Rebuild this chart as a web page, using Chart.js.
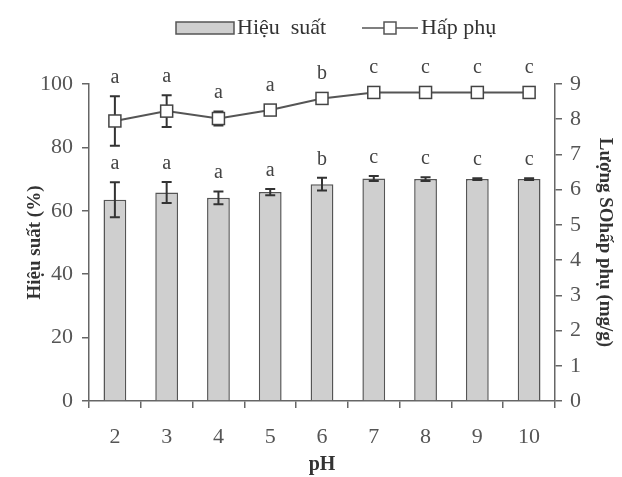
<!DOCTYPE html>
<html>
<head>
<meta charset="utf-8">
<script src="https://cdn.jsdelivr.net/npm/chart.js@4"></script>
<style>
  html, body { margin: 0; padding: 0; background: #fff; }
  #wrap { width: 622px; height: 477px; }
</style>
</head>
<body>
<div id="wrap"><canvas id="chart" width="622" height="477"></canvas></div>
<script>
// pH values on the x axis
const categories = ['2', '3', '4', '5', '6', '7', '8', '9', '10'];

// Hiệu suất (%) - bars, left axis
const hieuSuat = [63.5, 65.8, 64.1, 65.9, 68.4, 70.2, 70.0, 70.0, 70.0];
const hieuSuatErr = [5.5, 3.3, 2.0, 1.0, 2.0, 0.8, 0.6, 0.3, 0.3];
const hieuSuatLetters = ['a', 'a', 'a', 'a', 'b', 'c', 'c', 'c', 'c'];

// Hấp phụ (mg/g) - line, right axis
const hapPhu = [7.95, 8.23, 8.02, 8.26, 8.59, 8.76, 8.76, 8.76, 8.76];
const hapPhuErr = [0.7, 0.45, 0.2, 0.05, 0.15, 0.03, 0.03, 0.03, 0.03];
const hapPhuLetters = ['a', 'a', 'a', 'a', 'b', 'c', 'c', 'c', 'c'];

const leftTicks = [0, 20, 40, 60, 80, 100];
const rightTicks = [0, 1, 2, 3, 4, 5, 6, 7, 8, 9];

const SERIF = '"Liberation Serif", "DejaVu Serif", serif';
const TICK_COLOR = '#555';
const AXIS_COLOR = '#666';

// error bars + significance letters
const extras = {
  id: 'extras',
  afterDatasetsDraw(chart) {
    const ctx = chart.ctx;
    const x = chart.scales.x;
    const specs = [
      { vals: hieuSuat, errs: hieuSuatErr, letters: hieuSuatLetters, scale: chart.scales.y, pad: 0 },
      { vals: hapPhu, errs: hapPhuErr, letters: hapPhuLetters, scale: chart.scales.y1, pad: 6 }
    ];
    ctx.save();
    specs.forEach(s => {
      s.vals.forEach((v, i) => {
        const cx = x.getPixelForValue(i);
        const yTop = s.scale.getPixelForValue(v + s.errs[i]);
        const yBot = s.scale.getPixelForValue(v - s.errs[i]);
        ctx.strokeStyle = '#333';
        ctx.lineWidth = 2;
        ctx.beginPath();
        ctx.moveTo(cx, yTop); ctx.lineTo(cx, yBot);
        ctx.moveTo(cx - 5, yTop); ctx.lineTo(cx + 5, yTop);
        ctx.moveTo(cx - 5, yBot); ctx.lineTo(cx + 5, yBot);
        ctx.stroke();
        const top = Math.min(yTop, s.scale.getPixelForValue(v) - s.pad);
        ctx.fillStyle = '#444';
        ctx.font = '20px ' + SERIF;
        ctx.textAlign = 'center';
        ctx.textBaseline = 'alphabetic';
        ctx.fillText(s.letters[i], cx, top - 13);
      });
    });
    // redraw line points on top of the error bars
    const meta = chart.getDatasetMeta(1);
    meta.data.forEach(p => {
      ctx.fillStyle = '#fff';
      ctx.strokeStyle = '#444';
      ctx.lineWidth = 1.5;
      ctx.fillRect(p.x - 6, p.y - 6, 12, 12);
      ctx.strokeRect(p.x - 6, p.y - 6, 12, 12);
    });
    ctx.restore();
  },
  afterDraw(chart) {
    // legend
    const ctx = chart.ctx;
    const ds = chart.data.datasets;
    ctx.save();
    ctx.font = '22px ' + SERIF;
    ctx.textBaseline = 'middle';
    ctx.textAlign = 'left';
    const y = 28;
    ctx.fillStyle = '#cfcfcf';
    ctx.strokeStyle = '#555';
    ctx.lineWidth = 1.5;
    ctx.fillRect(176, y - 6, 58, 12);
    ctx.strokeRect(176, y - 6, 58, 12);
    ctx.fillStyle = '#333';
    ctx.fillText(ds[0].label, 237, y);
    ctx.strokeStyle = '#555';
    ctx.beginPath();
    ctx.moveTo(362, y); ctx.lineTo(418, y);
    ctx.stroke();
    ctx.fillStyle = '#fff';
    ctx.fillRect(384, y - 6, 12, 12);
    ctx.strokeRect(384, y - 6, 12, 12);
    ctx.fillStyle = '#333';
    ctx.fillText(ds[1].label, 421, y);
    ctx.restore();
  }
};

new Chart(document.getElementById('chart'), {
  data: {
    labels: categories,
    datasets: [
      {
        type: 'bar',
        label: 'Hiệu  suất',
        data: hieuSuat,
        yAxisID: 'y',
        backgroundColor: '#cfcfcf',
        borderColor: '#555',
        borderWidth: 1.5,
        barPercentage: 0.44,
        categoryPercentage: 1,
        order: 2
      },
      {
        type: 'line',
        label: 'Hấp phụ',
        data: hapPhu,
        yAxisID: 'y1',
        borderColor: '#555',
        borderWidth: 2,
        pointStyle: 'rect',
        pointRadius: 0,
        tension: 0,
        order: 1
      }
    ]
  },
  options: {
    responsive: false,
    animation: false,
    layout: { padding: { top: 84, left: 20, right: 4, bottom: 0 } },
    plugins: { legend: { display: false }, tooltip: { enabled: false } },
    scales: {
      x: {
        offset: true,
        grid: { display: true, offset: true, drawOnChartArea: false, tickLength: 7, color: AXIS_COLOR, lineWidth: 1.5 },
        border: { color: AXIS_COLOR, width: 1.5 },
        ticks: { color: TICK_COLOR, font: { family: SERIF, size: 22 }, padding: 16 },
        title: { display: true, text: 'pH', color: '#333', font: { family: SERIF, size: 20, weight: 'bold' }, padding: { top: 0, bottom: 0 } },
        afterFit: s => { s.height = 76; }
      },
      y: {
        position: 'left',
        min: 0, max: 100,
        afterBuildTicks: s => { s.ticks = leftTicks.map(v => ({ value: v })); },
        grid: { display: true, drawOnChartArea: false, tickLength: 7, color: AXIS_COLOR, lineWidth: 1.5 },
        border: { color: AXIS_COLOR, width: 1.5 },
        ticks: { color: TICK_COLOR, font: { family: SERIF, size: 22 }, padding: 9 },
        title: { display: true, text: 'Hiệu suất (%)', color: '#333', font: { family: SERIF, size: 19, weight: 'bold' }, padding: { bottom: 2 } },
        afterFit: s => { s.width = 69; }
      },
      y1: {
        position: 'right',
        min: 0, max: 9,
        afterBuildTicks: s => { s.ticks = rightTicks.map(v => ({ value: v })); },
        grid: { display: true, drawOnChartArea: false, tickLength: 7, color: AXIS_COLOR, lineWidth: 1.5 },
        border: { color: AXIS_COLOR, width: 1.5 },
        ticks: { color: TICK_COLOR, font: { family: SERIF, size: 22 }, padding: 8 },
        title: { display: true, text: 'Lượng SOhấp phụ (mg/g)', color: '#333', font: { family: SERIF, size: 19, weight: 'bold' }, padding: { top: 2 } },
        afterFit: s => { s.width = 63; }
      }
    }
  },
  plugins: [extras]
});
</script>
</body>
</html>
